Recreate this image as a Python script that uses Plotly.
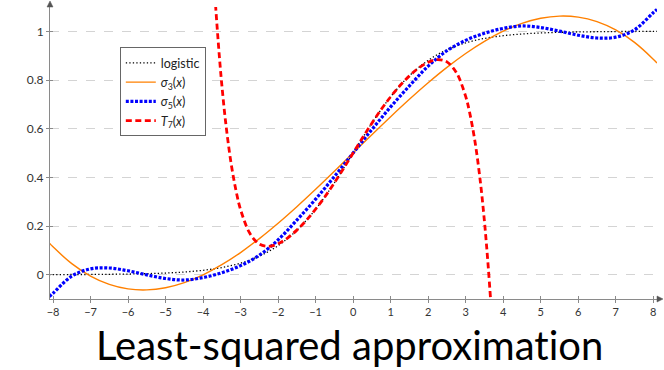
import plotly.graph_objects as go

# ---- data ----
x_fit = [-8.1, -8, -7.5, -7, -6.5, -6, -5.5, -5, -4.5, -4, -3.5, -3, -2.5, -2, -1.5, -1, -0.5,
         0, 0.5, 1, 1.5, 2, 2.5, 3, 3.5, 4, 4.5, 5, 5.5, 6, 6.5, 7, 7.5, 8, 8.1]

logistic = [0.0003, 0.0003, 0.0006, 0.0009, 0.0015, 0.0025, 0.0041, 0.0067, 0.0110, 0.0180,
            0.0293, 0.0474, 0.0759, 0.1192, 0.1824, 0.2689, 0.3775,
            0.5, 0.6225, 0.7311, 0.8176, 0.8808, 0.9241, 0.9526, 0.9707, 0.9820, 0.9890,
            0.9933, 0.9959, 0.9975, 0.9985, 0.9991, 0.9994, 0.9997, 0.9997]

sigma3 = [0.1304, 0.1143, 0.0453, -0.0058, -0.0400, -0.0586, -0.0627, -0.0536, -0.0325, -0.0006,
          0.0409, 0.0909, 0.1480, 0.2112, 0.2792, 0.3508, 0.4248,
          0.5, 0.5752, 0.6492, 0.7208, 0.7888, 0.8520, 0.9091, 0.9591, 1.0006, 1.0325,
          1.0536, 1.0627, 1.0586, 1.0400, 1.0058, 0.9547, 0.8857, 0.8696]

sigma5 = [-0.090, -0.0766, -0.0060, 0.0240, 0.0274, 0.0159, -0.0009, -0.0157, -0.0220, -0.0120,
          0.0080, 0.0370, 0.0800, 0.1430, 0.2243, 0.3104, 0.4034,
          0.5, 0.5966, 0.6896, 0.7757, 0.8570, 0.9200, 0.9630, 0.9920, 1.0120, 1.0220,
          1.0157, 1.0009, 0.9841, 0.9726, 0.9760, 1.0060, 1.0766, 1.090]

x_taylor = [-3.7, -3.675, -3.65, -3.6, -3.55, -3.5, -3.4, -3.25, -3.1, -3, -2.75, -2.5, -2.25,
            -2, -1.75, -1.5, -1.25, -1, -0.75, -0.5, -0.25, 0, 0.25, 0.5, 0.75, 1, 1.25,
            1.5, 1.75, 2, 2.25, 2.5, 2.75, 3, 3.1, 3.25, 3.4, 3.5, 3.55, 3.6, 3.65, 3.675, 3.7]
taylor7 = [1.1872, 1.1272, 1.0704, 0.9651, 0.8678, 0.7803, 0.6295, 0.4547, 0.3292, 0.2673,
           0.1688, 0.1257, 0.1161, 0.1270, 0.1505, 0.1831, 0.2228, 0.2690, 0.3208, 0.3775,
           0.4378, 0.5, 0.5622, 0.6225, 0.6792, 0.7310, 0.7772, 0.8169, 0.8495, 0.8730,
           0.8839, 0.8743, 0.8312, 0.7327, 0.6708, 0.5453, 0.3705, 0.2197, 0.1322, 0.0349,
           -0.0704, -0.1272, -0.1872]

x_ticks = list(range(-8, 9))
y_ticks = [0, 0.2, 0.4, 0.6, 0.8, 1]
legend_names = ["logistic", "<i>σ</i><sub>3</sub>(<i>x</i>)",
                "<i>σ</i><sub>5</sub>(<i>x</i>)", "<i>T</i><sub>7</sub>(<i>x</i>)"]
# zero-width non-joiner keeps the "ti" from forming a ligature
title_text = "Least-squared approximat\u200cion"

FONT = "Lato"
AX = "#8a8a8a"

fig = go.Figure()
fig.add_trace(go.Scatter(x=x_fit, y=logistic, mode="lines", name=legend_names[0],
                         line=dict(color="black", width=1.3, dash="1.3px,2.2px", shape="spline")))
fig.add_trace(go.Scatter(x=x_fit, y=sigma3, mode="lines", name=legend_names[1],
                         line=dict(color="#ff8000", width=1.4, shape="spline")))
fig.add_trace(go.Scatter(x=x_fit, y=sigma5, mode="lines", name=legend_names[2],
                         line=dict(color="#0000ff", width=3.2, dash="3px,1.6px", shape="spline")))
fig.add_trace(go.Scatter(x=x_taylor, y=taylor7, mode="lines", name=legend_names[3],
                         line=dict(color="#ff0000", width=2.8, dash="6px,3.5px", shape="spline")))
# empty trace carrying the inner tick axes
fig.add_trace(go.Scatter(x=[], y=[], xaxis="x2", yaxis="y2", showlegend=False, hoverinfo="skip"))

fig.update_layout(
    width=664, height=370, autosize=False,
    margin=dict(l=50, r=7, t=7, b=71),
    plot_bgcolor="white", paper_bgcolor="white",
    font=dict(family=FONT, size=11, color="#333333"),
    showlegend=True,
    legend=dict(x=0.115, y=0.862, xanchor="left", yanchor="top",
                bordercolor="#666666", borderwidth=1, bgcolor="white",
                font=dict(family=FONT, size=12.5, color="#222222"),
                tracegroupgap=0, itemwidth=30),
    xaxis=dict(range=[-8.08, 8.1], tickvals=x_ticks, showgrid=False, zeroline=False,
               showline=True, linecolor=AX, linewidth=1, ticks="outside", ticklen=3,
               tickcolor=AX, tickfont=dict(family=FONT, size=11, color="#333333")),
    yaxis=dict(range=[-0.1, 1.1], tickvals=y_ticks, showgrid=True, gridcolor="#d4d4d4",
               griddash="dash", gridwidth=1, zeroline=False, showline=True, linecolor=AX,
               linewidth=1, ticks="outside", ticklen=3, tickcolor=AX,
               tickfont=dict(family=FONT, size=12, color="#333333")),
    xaxis2=dict(overlaying="x", matches="x", anchor="y", side="bottom", tickvals=x_ticks,
                ticks="inside", ticklen=3, tickcolor=AX, showticklabels=False,
                showgrid=False, zeroline=False, showline=False),
    yaxis2=dict(overlaying="y", matches="y", anchor="x", side="left", tickvals=y_ticks,
                ticks="inside", ticklen=3, tickcolor=AX, showticklabels=False,
                showgrid=False, zeroline=False, showline=False),
)

# axis arrowheads (decoration, in paper coordinates)
ARW = "#555555"
fig.add_shape(type="path", xref="paper", yref="paper",
              path="M 1.0 -0.0103 L 1.0099 0 L 1.0 0.0103 Z",
              fillcolor=ARW, line=dict(color=ARW, width=0.5))
fig.add_shape(type="path", xref="paper", yref="paper",
              path="M -0.0049 1.0 L 0 1.0205 L 0.0049 1.0 Z",
              fillcolor=ARW, line=dict(color=ARW, width=0.5))

fig.add_annotation(x=0.494, y=-0.156, xref="paper", yref="paper", text=title_text,
                   showarrow=False, xanchor="center", yanchor="middle",
                   font=dict(family=FONT, size=40, color="black"))

fig.write_html("out.html")
